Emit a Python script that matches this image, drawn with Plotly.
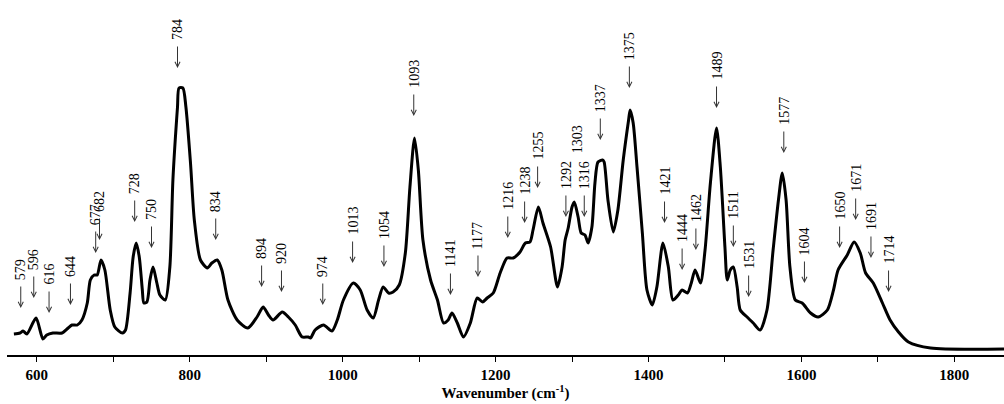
import plotly.graph_objects as go

# Spectrum (wavenumber in cm-1, intensity in arbitrary units)
wavenumber = [570, 578, 582, 587, 599, 608, 613, 621, 633, 641, 646, 653, 659, 666, 670, 675, 679,
              684, 689, 696, 702, 712, 716, 722, 726, 730, 734, 738, 740, 744, 748, 752, 757, 761,
              768, 774, 778, 784, 786, 791, 795, 801, 806, 814, 823, 829, 836, 842, 850, 862, 876,
              888, 896, 903, 909, 921, 929, 938, 947, 955, 958, 964, 975, 986, 993, 1001, 1014,
              1023, 1032, 1040, 1047, 1053, 1060, 1066, 1074, 1082, 1088, 1094, 1099, 1105, 1115,
              1124, 1132, 1138, 1143, 1150, 1158, 1167, 1176, 1183, 1189, 1197, 1206, 1215, 1223,
              1232, 1239, 1245, 1249, 1256, 1262, 1272, 1281, 1287, 1291, 1295, 1300, 1303, 1308,
              1312, 1317, 1321, 1326, 1330, 1334, 1340, 1342, 1347, 1354, 1360, 1367, 1374, 1376,
              1380, 1385, 1392, 1398, 1405, 1411, 1419, 1426, 1432, 1439, 1444, 1451, 1456, 1461,
              1468, 1474, 1481, 1489, 1494, 1500, 1503, 1507, 1511, 1516, 1520, 1529, 1533, 1537,
              1546, 1555, 1563, 1570, 1575, 1580, 1585, 1592, 1601, 1612, 1622, 1634, 1642, 1648,
              1660, 1669, 1677, 1684, 1694, 1706, 1716, 1727, 1740, 1769, 1865]
intensity = [21, 22, 24, 21, 37, 16, 20, 22, 22, 27, 30, 30, 35, 52, 75, 80, 80,
             95, 85, 45, 28, 22, 25, 62, 98, 112, 98, 65, 52, 53, 75, 88, 72, 60,
             55, 88, 175, 248, 267, 267, 248, 192, 135, 95, 87, 92, 95, 85, 55, 35, 27,
             38, 48, 40, 35, 43, 38, 30, 18, 18, 17, 25, 30, 24, 35, 55, 72,
             65, 45, 37, 55, 68, 62, 63, 70, 102, 168, 217, 185, 115, 75,
             55, 32, 35, 42, 32, 18, 32, 57, 53, 57, 62, 82, 97, 97,
             103, 112, 113, 125, 148, 132, 108, 68, 88, 115, 127, 148, 153, 138,
             122, 120, 112, 128, 172, 193, 195, 193, 155, 123, 145, 195, 235, 245,
             232, 188, 122, 65, 50, 68, 112, 88, 55, 60, 65, 62, 72, 85,
             72, 105, 172, 227, 188, 108, 75, 85, 88, 68, 45, 38, 35, 32,
             25, 45, 105, 155, 182, 155, 88, 55, 52, 42, 38, 45, 65, 85,
             100, 113, 102, 82, 72, 52, 35, 23, 13, 7, 6]

# Peak labels and the height of each arrow tip
peak_labels = [579, 596, 616, 644, 677, 682, 728, 750, 784, 834, 894, 920, 974, 1013, 1054,
               1093, 1141, 1177, 1216, 1238, 1255, 1292, 1303, 1316, 1337, 1375, 1421, 1444,
               1462, 1489, 1511, 1531, 1577, 1604, 1650, 1671, 1691, 1714]
arrow_tips = [47, 57, 42, 50, 102, 115, 133, 107, 287, 115, 68, 63, 50, 92, 88,
              239, 60, 78, 117, 132, 167, 138, 174, 138, 215, 267, 132, 85,
              105, 247, 108, 58, 202, 72, 107, 135, 97, 63]
no_arrow = [1303]
label_x = {1303: 1307}

x_ticks = [600, 700, 800, 900, 1000, 1100, 1200, 1300, 1400, 1500, 1600, 1700, 1800]
x_tick_text = ["600", "", "800", "", "1000", "", "1200", "", "1400", "", "1600", "", "1800"]

fig = go.Figure()
fig.add_trace(go.Scatter(x=wavenumber, y=intensity, mode="lines",
                         line=dict(color="black", width=3, shape="spline", smoothing=0.7),
                         hoverinfo="skip", showlegend=False))

annotations = []
for lab, tip in zip(peak_labels, arrow_tips):
    lx = label_x.get(lab, lab)
    if lab not in no_arrow:
        annotations.append(dict(x=lab, y=tip, xref="x", yref="y", text="", showarrow=True,
                                ax=0, ay=-23, arrowhead=5, arrowsize=1, arrowwidth=1,
                                arrowcolor="#333333"))
    annotations.append(dict(x=lx, y=tip + 27, xref="x", yref="y", text=str(lab),
                            showarrow=False, textangle=-90, xanchor="center", yanchor="bottom",
                            borderpad=0,
                            font=dict(family="Liberation Serif", size=14, color="black")))

fig.update_layout(
    width=1004, height=404,
    margin=dict(l=7, r=0, t=0, b=49),
    paper_bgcolor="white", plot_bgcolor="white",
    annotations=annotations,
    xaxis=dict(range=[561, 1865], showgrid=False, zeroline=False, showline=True,
               linecolor="black", linewidth=1.5, ticks="outside", ticklen=5, tickwidth=1,
               tickcolor="black", tickvals=x_ticks, ticktext=x_tick_text,
               tickfont=dict(family="Liberation Serif", size=15, color="black", weight="bold"),
               title=dict(text="Wavenumber (cm<sup>-1</sup>)", standoff=5,
                          font=dict(family="Liberation Serif", size=15, color="black",
                                    weight="bold"))),
    yaxis=dict(range=[0, 355], visible=False),
)

fig.write_html("out.html")
